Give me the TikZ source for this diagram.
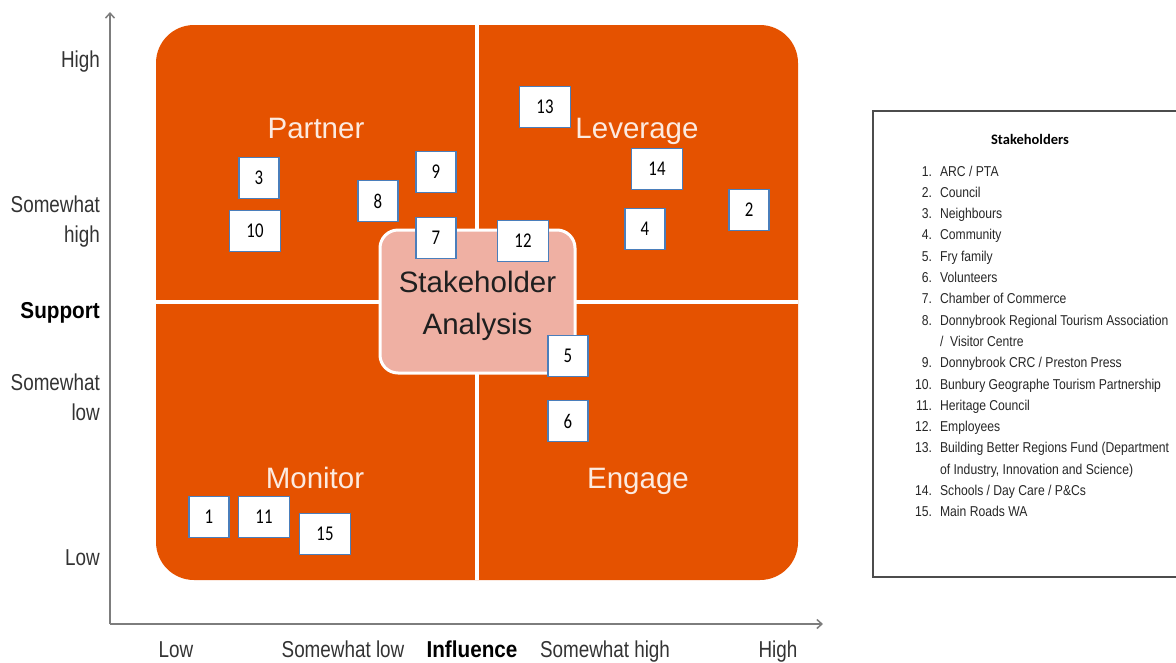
\documentclass[tikz,border=0pt]{standalone}
\usepackage{fontspec}
\setmainfont{Liberation Sans}
\newfontfamily\axisfont[FakeStretch=0.82]{Liberation Sans}
\newfontfamily\axisboldfont[FakeStretch=0.9]{Liberation Sans}
\newfontfamily\numfont[FakeStretch=0.8]{Carlito}
\newfontfamily\titlefont{Carlito}
\newfontfamily\listfont[FakeStretch=0.85]{Liberation Sans}
\usetikzlibrary{arrows.meta}
\definecolor{quadorange}{RGB}{229,82,0}
\definecolor{analysispink}{RGB}{239,176,163}
\definecolor{boxblue}{RGB}{74,126,187}
\definecolor{axisgrey}{RGB}{125,125,125}

\begin{document}
\begin{tikzpicture}[x=1pt,y=-1pt,
 quadrant/.style={anchor=base,text=white!88!quadorange,font=\fontsize{29.5}{34}\selectfont},
 analysisbox/.style={fill=analysispink,draw=white,line width=3pt,rounded corners=18pt,
        minimum width=195pt,minimum height=143pt,align=center,text=black!88,
        font=\fontsize{29.5}{42}\selectfont},
 numbox/.style={draw=boxblue,fill=white,line width=1.2pt,minimum width=40pt,
        minimum height=41pt,inner sep=0pt,font=\numfont\fontsize{21}{24}\selectfont},
 widebox/.style={numbox,minimum width=51pt},
 supportlabel/.style={anchor=base east,inner sep=0pt,text=black!80,
        font=\axisfont\fontsize{23}{30}\selectfont},
 influencelabel/.style={anchor=base,inner sep=0pt,text=black!80,
        font=\axisfont\fontsize{23}{30}\selectfont},
 axisname/.style={text=black,font=\axisboldfont\bfseries\fontsize{23}{30}\selectfont},
 axis/.style={draw=axisgrey,line width=1.5pt,-{Straight Barb[length=5pt,width=9pt]}}]

\useasboundingbox (0,0) rectangle (1176,662);

\fill[quadorange,rounded corners=38pt] (156,25) rectangle (798,580);
\draw[white,line width=3.5pt] (477,25)--(477,580) (156,302)--(798,302);

\node[quadrant] (partner) at (316,138) {Partner};
\node[quadrant] (leverage) at (637,138) {Leverage};
\node[quadrant] (monitor) at (315,488) {Monitor};
\node[quadrant] (engage) at (638,488) {Engage};

\node[analysisbox] (analysis) at (477.5,301.5) {\raisebox{0pt}[31pt]{Stakeholder}\\Analysis};

\node[numbox] (n1) at (209,517) {1};
\node[numbox] (n2) at (749,210) {2};
\node[numbox] (n3) at (259,178) {3};
\node[numbox] (n4) at (645,229) {4};
\node[numbox] (n5) at (568,356) {5};
\node[numbox] (n6) at (568,421) {6};
\node[numbox] (n7) at (436,238) {7};
\node[numbox] (n8) at (378,201) {8};
\node[numbox] (n9) at (436,172) {9};
\node[widebox] (n10) at (255,231) {10};
\node[widebox] (n11) at (264,517) {11};
\node[widebox] (n12) at (523,241) {12};
\node[widebox] (n13) at (545,107) {13};
\node[widebox] (n14) at (657,169) {14};
\node[widebox] (n15) at (325,534) {15};

\coordinate (origin) at (110,624);
\coordinate (supporttip) at (110,12);
\coordinate (influencetip) at (823,624);
\draw[axis] (origin)--(supporttip);
\draw[axis] (origin)--(influencetip);

\node[supportlabel] (shigh) at (100,67) {High};
\node[supportlabel] (ssomehigh) at (100,212) {\begin{tabular}[t]{@{}r@{}}Somewhat\\high\end{tabular}};
\node[supportlabel,axisname] (support) at (100,318) {Support};
\node[supportlabel] (ssomelow) at (100,390) {\begin{tabular}[t]{@{}r@{}}Somewhat\\low\end{tabular}};
\node[supportlabel] (slow) at (100,565) {Low};

\node[influencelabel] (ilow) at (176,657) {Low};
\node[influencelabel] (isomelow) at (343,657) {Somewhat low};
\node[influencelabel,axisname] (influence) at (472,657) {Influence};
\node[influencelabel] (isomehigh) at (605,657) {Somewhat high};
\node[influencelabel] (ihigh) at (778,657) {High};

\draw[black!70,line width=1.3pt] (1176,111)--(873,111)--(873,577)--(1176,577);
\node[anchor=base,font=\titlefont\bfseries\fontsize{14.5}{17}\selectfont] (listtitle) at (1030,144) {Stakeholders};
\node[anchor=base west,inner sep=0pt,text=black!85,font=\listfont\fontsize{14.3}{21.3}\selectfont]
  (stakelist) at (915,176) {\begin{tabular}[t]{@{}r@{\hspace{8pt}}l@{}}
1. & ARC / PTA\\
2. & Council\\
3. & Neighbours\\
4. & Community\\
5. & Fry family\\
6. & Volunteers\\
7. & Chamber of Commerce\\
8. & Donnybrook Regional Tourism Association\\
   & /~ Visitor Centre\\
9. & Donnybrook CRC / Preston Press\\
10. & Bunbury Geographe Tourism Partnership\\
11. & Heritage Council\\
12. & Employees\\
13. & Building Better Regions Fund (Department\\
    & of Industry, Innovation and Science)\\
14. & Schools / Day Care / P\&Cs\\
15. & Main Roads WA
\end{tabular}};
\end{tikzpicture}
\end{document}
